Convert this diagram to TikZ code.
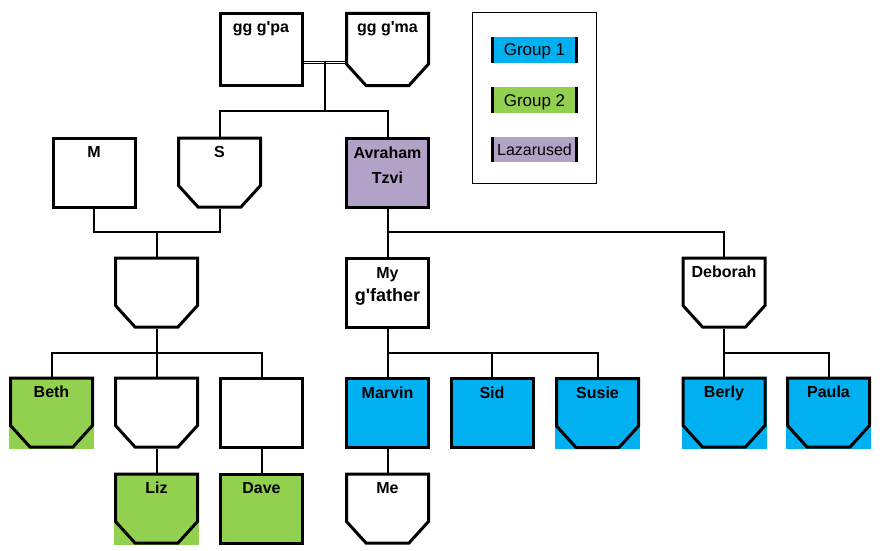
\documentclass[tikz,border=0pt]{standalone}
\usepackage{fontspec}
\setmainfont{Liberation Sans}[Ligatures=TeXOff]
\definecolor{gblue}{HTML}{00B0F0}
\definecolor{ggreen}{HTML}{92D050}
\definecolor{gpurp}{HTML}{B3A2C7}
\begin{document}
\begin{tikzpicture}[x=1pt,y=-1pt,
  conn/.style={line width=2pt, draw=black},
  lbl/.style={font=\bfseries\fontsize{16}{25}\selectfont, inner sep=0pt, anchor=north, align=center},
  nm/.style={label={[lbl,yshift=-9.5pt]north:{#1}}},
  male/.style={draw=black, line width=3pt, fill=#1, minimum width=82pt, minimum height=69pt, inner sep=0pt},
  male/.default=white,
  female/.style={fill=#1, draw=none, minimum width=85pt, minimum height=72pt, inner sep=0pt, outer sep=0pt,
    path picture={\draw[line width=3pt, line join=miter]
      ([shift={(1.5,1.5)}]path picture bounding box.north west) --
      ([shift={(-1.5,1.5)}]path picture bounding box.north east) --
      ([shift={(-1.5,-23)}]path picture bounding box.south east) --
      ([shift={(-21,-1.5)}]path picture bounding box.south east) --
      ([shift={(21,-1.5)}]path picture bounding box.south west) --
      ([shift={(1.5,-23)}]path picture bounding box.south west) -- cycle;}},
  female/.default=white,
  legent/.style={fill=#1, minimum width=87pt, minimum height=26pt, inner sep=0pt,
    font=\fontsize{17}{20}\selectfont, text height=12pt, text depth=0pt,
    path picture={\fill[black] (path picture bounding box.north west) rectangle ([shift={(3.3,0)}]path picture bounding box.south west);
      \fill[black] (path picture bounding box.north east) rectangle ([shift={(-3.3,0)}]path picture bounding box.south east);}}
]
\fill[white] (0,0) rectangle (880,551);
\useasboundingbox (0,0) rectangle (880,551);

% generation 0
\node[male, minimum height=72pt, nm={gg g'pa}] (ggpa) at (261,49.5) {};
\node[female, minimum height=75pt, nm={gg g'ma}] (ggma) at (387.5,49.5) {};
% generation 1
\node[male, nm={M}] (m) at (94,172.5) {};
\node[female, nm={S}] (s) at (219.5,172.5) {};
\node[male=gpurp, nm={Avraham\\Tzvi}] (avr) at (387.5,173) {};
% generation 2
\node[female] (u1) at (156.5,292.5) {};
\node[male, label={[lbl,font=\bfseries\fontsize{16}{22.5}\selectfont,yshift=-10.5pt]north:{My\\{\fontsize{18}{22.5}\selectfont g'father}}}] (mygf) at (387.5,293) {};
\node[female, nm={Deborah}] (deb) at (724,292.5) {};
% generation 3
\node[female=ggreen, nm={Beth}] (beth) at (51.5,412.5) {};
\node[female] (u2) at (156.5,412.5) {};
\node[male] (u3) at (261.5,412.5) {};
\node[male=gblue, nm={Marvin}] (marvin) at (387.5,413) {};
\node[male=gblue, nm={Sid}] (sid) at (492,413) {};
\node[female=gblue, nm={Susie}] (susie) at (597.5,413) {};
\node[female=gblue, nm={Berly}] (berly) at (724,412.5) {};
\node[female=gblue, nm={Paula}] (paula) at (828.5,412.5) {};
% generation 4
\node[female=ggreen, nm={Liz}] (liz) at (156.5,508.5) {};
\node[male=ggreen, nm={Dave}] (dave) at (261.5,508.5) {};
\node[female, nm={Me}] (me) at (387.5,508.5) {};

% legend
\node[draw=black, line width=1pt, minimum width=124pt, minimum height=171pt, inner sep=0pt] (legend) at (534.5,98) {};
\node[legent=gblue] (lg1) at (534.5,50) {Group 1};
\node[legent=ggreen] (lg2) at (534.5,100) {Group 2};
\node[legent=gpurp, minimum height=25pt, font=\fontsize{16}{19}\selectfont] (lg3) at (534.5,149.5) {Lazarused};

% connectors
\coordinate (m0) at (324.5,62.5);
\coordinate (bar1) at (324.5,111);
\coordinate (bar2) at (156.5,232);
\coordinate (bar3) at (387.5,232);
\coordinate (bar4) at (156.5,353);
\coordinate (bar5) at (387.5,353);
\coordinate (bar6) at (724,353);

\draw[line width=1pt, double=white, double distance=1.2pt] (ggpa.east |- m0) -- (ggma.west |- m0);
\draw[conn] (m0) -- (bar1);
\draw[conn] (s.north) |- (bar1) -| (avr.north);

\draw[conn] (m.south) |- (bar2) -| (s.south);
\draw[conn] (bar2) -- (u1.north);

\draw[conn] (avr.south) -- (mygf.north);
\draw[conn] (bar3) -| (deb.north);

\draw[conn] (u1.south) -- (u2.north);
\draw[conn] (beth.north) |- (bar4) -| (u3.north);

\draw[conn] (mygf.south) -- (marvin.north);
\draw[conn] (bar5) -| (susie.north);
\draw[conn] (sid.north) -- (sid.north |- bar5);

\draw[conn] (deb.south) -- (berly.north);
\draw[conn] (bar6) -| (paula.north);

\draw[conn] (u2.south) -- (liz.north);
\draw[conn] (u3.south) -- (dave.north);
\draw[conn] (marvin.south) -- (me.north);
\end{tikzpicture}
\end{document}
